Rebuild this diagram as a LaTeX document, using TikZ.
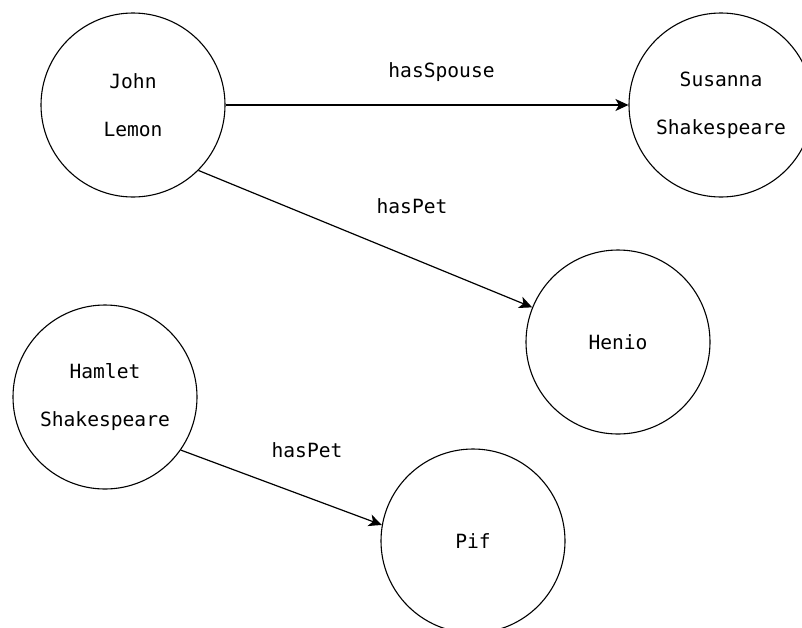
\documentclass[tikz,border=0pt]{standalone}
\usepackage{fontspec}
\newfontfamily\monofnt{DejaVu Sans Mono}
\usetikzlibrary{arrows.meta}
\tikzset{
  entity/.style={circle, draw=black, line width=1.1pt, minimum size=184pt, inner sep=0pt,
    align=center, font=\monofnt\fontsize{19.6}{48}\selectfont, text=black},
  rel/.style={draw=black, line width=1.2pt, -{Stealth[length=13pt,width=12pt,inset=3.5pt]}},
  rellabel/.style={anchor=base, inner sep=0pt, font=\monofnt\fontsize{19.6}{24}\selectfont, text=black}
}
\begin{document}
\begin{tikzpicture}[x=1pt,y=-1pt]
\useasboundingbox (0,0) rectangle (802,627);
\fill[white] (0,0) rectangle (802,627);
\node[entity] (john) at (133,105) {John\\Lemon};
\node[entity] (susanna) at (721,105) {Susanna\\Shakespeare};
\node[entity] (henio) at (618,342) {Henio};
\node[entity] (hamlet) at (105,397) {Hamlet\\Shakespeare};
\node[entity] (pif) at (473,541) {Pif};
\draw[rel] (john.east) -- (susanna.west);
\draw[rel] (john.-45) -- (henio.158.5);
\draw[rel] (hamlet.-35.5) -- (pif.170);
\node[rellabel] (l1) at (441.5,77) {hasSpouse};
\node[rellabel] (l2) at (412,213) {hasPet};
\node[rellabel] (l3) at (307,457) {hasPet};
\end{tikzpicture}
\end{document}
